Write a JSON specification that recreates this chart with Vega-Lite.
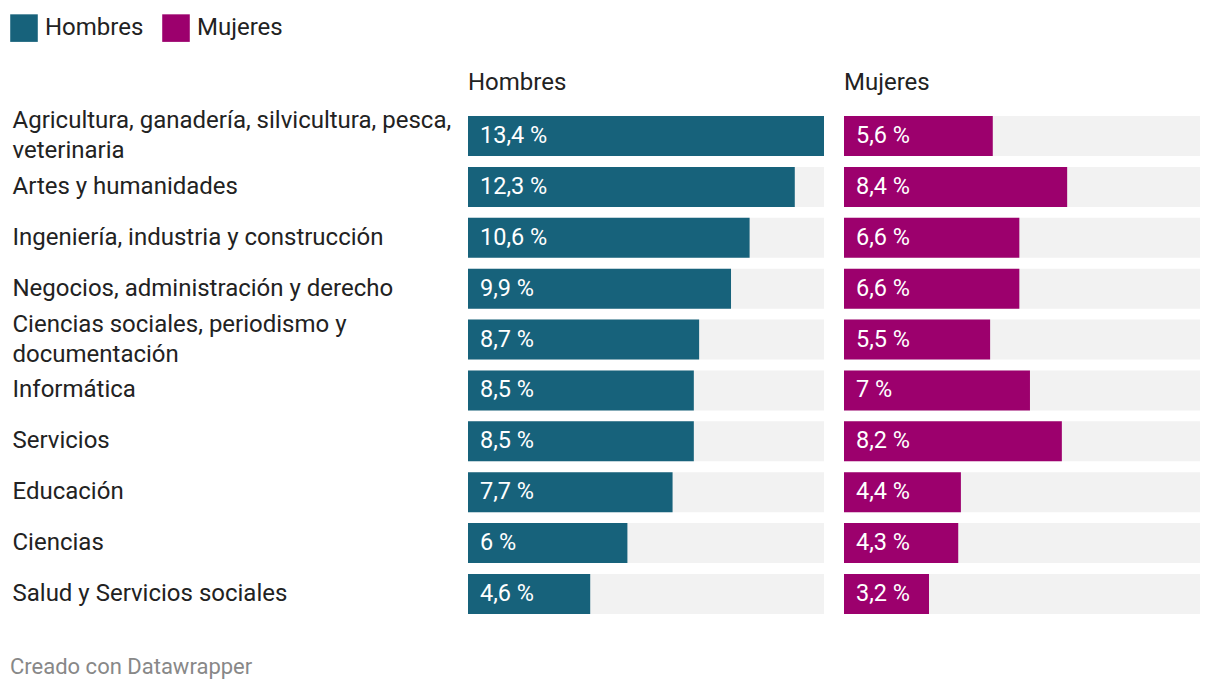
{
  "$schema": "https://vega.github.io/schema/vega-lite/v6.json",
  "padding": {"left": 10, "top": 14, "right": 20, "bottom": 12},
  "background": "white",
  "config": {
    "font": "Roboto",
    "view": {"stroke": null},
    "locale": {"number": {"decimal": ",", "thousands": ".", "grouping": [3], "currency": ["", " %"]}}
  },
  "title": {"text": "Creado con Datawrapper", "orient": "bottom", "anchor": "start", "frame": "bounds", "fontSize": 22, "fontWeight": "normal", "color": "#888888", "offset": 43, "font": "Roboto"},
  "data": {"values": [
    {"area": "Agricultura, ganadería, silvicultura, pesca, veterinaria", "sexo": "Hombres", "valor": 13.4},
    {"area": "Agricultura, ganadería, silvicultura, pesca, veterinaria", "sexo": "Mujeres", "valor": 5.6},
    {"area": "Artes y humanidades", "sexo": "Hombres", "valor": 12.3},
    {"area": "Artes y humanidades", "sexo": "Mujeres", "valor": 8.4},
    {"area": "Ingeniería, industria y construcción", "sexo": "Hombres", "valor": 10.6},
    {"area": "Ingeniería, industria y construcción", "sexo": "Mujeres", "valor": 6.6},
    {"area": "Negocios, administración y derecho", "sexo": "Hombres", "valor": 9.9},
    {"area": "Negocios, administración y derecho", "sexo": "Mujeres", "valor": 6.6},
    {"area": "Ciencias sociales, periodismo y documentación", "sexo": "Hombres", "valor": 8.7},
    {"area": "Ciencias sociales, periodismo y documentación", "sexo": "Mujeres", "valor": 5.5},
    {"area": "Informática", "sexo": "Hombres", "valor": 8.5},
    {"area": "Informática", "sexo": "Mujeres", "valor": 7},
    {"area": "Servicios", "sexo": "Hombres", "valor": 8.5},
    {"area": "Servicios", "sexo": "Mujeres", "valor": 8.2},
    {"area": "Educación", "sexo": "Hombres", "valor": 7.7},
    {"area": "Educación", "sexo": "Mujeres", "valor": 4.4},
    {"area": "Ciencias", "sexo": "Hombres", "valor": 6},
    {"area": "Ciencias", "sexo": "Mujeres", "valor": 4.3},
    {"area": "Salud y Servicios sociales", "sexo": "Hombres", "valor": 4.6},
    {"area": "Salud y Servicios sociales", "sexo": "Mujeres", "valor": 3.2}
  ]},
  "facet": {
    "column": {
      "field": "sexo", "type": "nominal", "sort": ["Hombres", "Mujeres"], "title": null,
      "header": {"labelFontSize": 24, "labelColor": "#222222", "labelAnchor": "start", "labelAlign": "left", "labelPadding": 21, "labelFont": "Roboto"}
    }
  },
  "spacing": 20,
  "spec": {
    "width": 356,
    "height": 498,
    "encoding": {
      "y": {
        "field": "area", "type": "nominal",
        "sort": ["Agricultura, ganadería, silvicultura, pesca, veterinaria", "Artes y humanidades", "Ingeniería, industria y construcción", "Negocios, administración y derecho", "Ciencias sociales, periodismo y documentación", "Informática", "Servicios", "Educación", "Ciencias", "Salud y Servicios sociales"],
        "scale": {"paddingInner": 0.214, "paddingOuter": 0},
        "axis": {
          "title": null, "ticks": false, "domain": false, "labelAlign": "left", "labelPadding": 456,
          "labelFontSize": 24, "labelColor": "#222222", "labelLimit": 600, "labelLineHeight": 30, "labelFont": "Roboto",
          "labelOffset": {"condition": {"test": "indexof(datum.value, 'Agricultura') == 0 || indexof(datum.value, 'Ciencias sociales') == 0", "value": -15}, "value": 0},
          "labelExpr": "datum.label == 'Agricultura, ganadería, silvicultura, pesca, veterinaria' ? ['Agricultura, ganadería, silvicultura, pesca,', 'veterinaria'] : datum.label == 'Ciencias sociales, periodismo y documentación' ? ['Ciencias sociales, periodismo y', 'documentación'] : datum.label"
        }
      }
    },
    "layer": [
      {
        "mark": {"type": "bar", "color": "#f2f2f2"},
        "encoding": {
          "x": {"datum": 13.4, "type": "quantitative", "scale": {"domain": [0, 13.4], "nice": false}, "axis": null},
          "x2": {"datum": 0}
        }
      },
      {
        "mark": {"type": "bar"},
        "encoding": {
          "x": {"field": "valor", "type": "quantitative", "axis": null},
          "color": {
            "field": "sexo", "type": "nominal",
            "scale": {"domain": ["Hombres", "Mujeres"], "range": ["#17627b", "#9c006d"]},
            "legend": {"orient": "none", "legendX": -458, "legendY": -102, "direction": "horizontal", "title": null, "symbolType": "square", "symbolSize": 760, "symbolStrokeWidth": 0, "symbolOpacity": 1, "labelFontSize": 24, "labelColor": "#222222", "columnPadding": 18, "labelOffset": 7, "labelFont": "Roboto"}
          }
        }
      },
      {
        "mark": {"type": "text", "color": "white", "align": "left", "baseline": "middle", "dx": 12, "fontSize": 23.5, "font": "Roboto"},
        "encoding": {
          "x": {"datum": 0, "type": "quantitative"},
          "text": {"field": "valor", "type": "quantitative", "format": "$.1~f"}
        }
      }
    ]
  }
}
